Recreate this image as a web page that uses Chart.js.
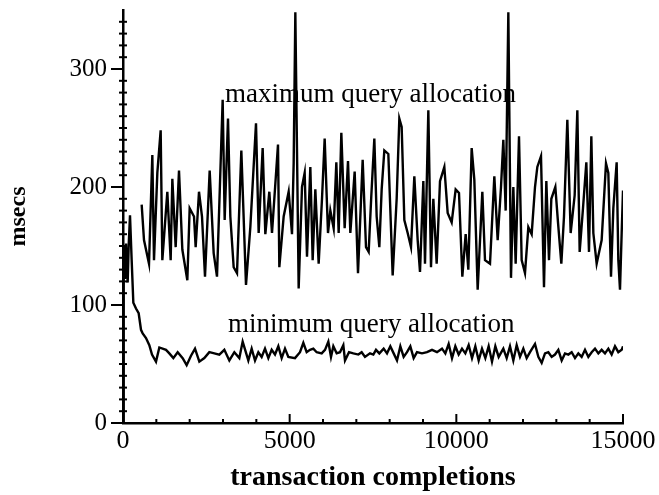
<!DOCTYPE html>
<html><head><meta charset="utf-8">
<script src="https://cdn.jsdelivr.net/npm/chart.js@4/dist/chart.umd.min.js"></script>
<style>html,body{margin:0;padding:0;background:#fff}#wrap{width:659px;height:495px}</style>
</head><body><div id="wrap"><canvas id="c" width="659" height="495"></canvas></div>
<script>
const xTickLabels = [0, 5000, 10000, 15000];
const yTickLabels = [0, 100, 200, 300];
const seriesNames = ["maximum query allocation", "minimum query allocation"];

const maxSeries = [
[560,185],[630,155],[780,135],[880,227],[930,138],[1030,212],[1130,248],[1180,138],[1330,196],[1430,138],
[1480,207],[1580,149],[1680,214],[1780,147],[1930,121],[2000,182],[2130,175],[2180,149],[2280,196],[2370,175],
[2460,124],[2600,214],[2720,144],[2820,124],[2990,274],[3050,172],[3150,258],[3220,175],[3320,132],[3420,127],
[3550,231],[3690,117],[3820,166],[3990,254],[4070,161],[4190,233],[4270,160],[4390,196],[4470,161],[4650,236],
[4690,132],[4820,175],[4970,196],[5070,160],[5120,220],[5170,348],[5270,114],[5370,200],[5450,212],[5520,141],
[5620,217],[5690,138],[5770,198],[5870,135],[5970,190],[6050,241],[6150,161],[6220,180],[6320,165],[6400,221],
[6470,161],[6550,246],[6650,165],[6750,222],[6820,161],[6950,213],[7050,127],[7190,223],[7290,149],[7370,145],
[7450,193],[7540,241],[7610,175],[7690,149],[7760,198],[7840,231],[7960,228],[8090,125],[8210,190],[8290,258],
[8360,251],[8440,172],[8540,161],[8640,149],[8740,209],[8840,155],[8910,128],[9010,205],[9060,135],[9160,265],
[9240,132],[9310,190],[9410,135],[9510,205],[9640,217],[9740,178],[9860,170],[9980,198],[10080,195],[10180,124],
[10280,160],[10360,130],[10460,233],[10540,206],[10640,113],[10780,196],[10860,138],[11010,135],[11140,209],[11240,155],
[11340,200],[11410,240],[11480,180],[11560,348],[11640,123],[11710,200],[11780,135],[11880,243],[11960,138],[12060,127],
[12160,166],[12260,160],[12360,200],[12430,217],[12540,226],[12630,115],[12700,205],[12780,138],[12850,190],[12970,200],
[13050,170],[13150,135],[13230,175],[13330,257],[13430,161],[13550,193],[13630,265],[13700,145],[13800,182],[13900,221],
[13980,145],[14050,243],[14110,161],[14210,135],[14360,155],[14490,220],[14560,212],[14640,124],[14710,182],[14810,221],
[14860,138],[14910,113],[14960,161],[15000,197]
];

const minSeries = [
[0,0],[20,150],[60,122],[90,152],[140,119],[170,150],[210,176],[260,138],[310,102],[390,97],
[470,93],[540,79],[590,76],[690,72],[790,66],[870,58],[990,52],[1090,64],[1290,62],[1390,59],
[1510,55],[1640,60],[1790,55],[1910,49],[2040,57],[2160,63],[2290,52],[2440,55],[2590,60],[2740,59],
[2890,58],[3040,62],[3190,53],[3340,60],[3490,55],[3590,69],[3760,53],[3860,63],[3960,53],[4060,60],
[4160,56],[4260,63],[4360,55],[4460,62],[4560,58],[4660,65],[4760,55],[4860,63],[4960,56],[5160,55],
[5310,60],[5410,68],[5510,60],[5610,62],[5710,63],[5810,60],[5960,59],[6060,62],[6160,69],[6240,56],
[6310,65],[6410,59],[6510,60],[6610,66],[6660,53],[6780,60],[6910,59],[7060,58],[7160,60],[7260,56],
[7410,59],[7510,58],[7590,62],[7690,59],[7820,63],[7920,59],[8020,65],[8120,59],[8220,53],[8320,65],
[8420,56],[8520,60],[8620,65],[8720,55],[8820,60],[8970,59],[9120,60],[9270,62],[9420,60],[9570,63],
[9670,59],[9770,67],[9870,55],[9970,65],[10070,58],[10170,63],[10270,59],[10370,66],[10470,55],[10570,65],
[10670,53],[10770,63],[10870,55],[10970,65],[11070,52],[11170,65],[11270,56],[11410,63],[11510,55],[11610,65],
[11710,53],[11810,66],[11910,56],[12010,63],[12110,55],[12210,60],[12360,67],[12460,56],[12560,51],[12660,59],
[12760,60],[12860,56],[12960,58],[13060,62],[13160,53],[13260,59],[13360,58],[13460,60],[13560,55],[13660,59],
[13760,56],[13860,62],[13960,56],[14060,60],[14160,63],[14260,59],[14360,62],[14460,59],[14560,63],[14660,58],
[14760,65],[14860,60],[14960,62],[15000,65]
];

const SERIF = '"Liberation Serif", "Times New Roman", serif';

const decor = {
  id: 'decor',
  afterDraw(chart) {
    const {ctx, scales: {x, y}} = chart;
    ctx.save();
    ctx.strokeStyle = '#000';
    ctx.lineWidth = 2;
    const ax = x.getPixelForValue(0);
    const ay = y.getPixelForValue(0);
    for (let v = 0; v < 350; v += 10) {
      const p = y.getPixelForValue(v);
      const major = v % 100 === 0;
      ctx.beginPath();
      ctx.moveTo(major ? ax - 12 : ax - 4, p);
      ctx.lineTo(major ? ax + 1 : ax + 4, p);
      ctx.stroke();
    }
    for (let v = 0; v <= 15000; v += 1000) {
      const p = x.getPixelForValue(v);
      const major = v % 5000 === 0;
      ctx.beginPath();
      ctx.moveTo(p, major ? ay - 9 : ay - 4);
      ctx.lineTo(p, ay + 1);
      ctx.stroke();
    }
    ctx.fillStyle = '#000';
    ctx.font = '27px ' + SERIF;
    ctx.textBaseline = 'middle';
    ctx.textAlign = 'left';
    ctx.fillText(seriesNames[0], x.getPixelForValue(3060), y.getPixelForValue(278));
    ctx.fillText(seriesNames[1], x.getPixelForValue(3150), y.getPixelForValue(83));
    ctx.restore();
  }
};

new Chart(document.getElementById('c'), {
  type: 'line',
  data: {
    datasets: [
      { label: seriesNames[0], data: maxSeries.map(p => ({x: p[0], y: p[1]})),
        borderColor: '#000', borderWidth: 2.4, pointRadius: 0, tension: 0, fill: false },
      { label: seriesNames[1], data: minSeries.map(p => ({x: p[0], y: p[1]})),
        borderColor: '#000', borderWidth: 2.4, pointRadius: 0, tension: 0, fill: false }
    ]
  },
  options: {
    responsive: false,
    animation: false,
    devicePixelRatio: 1,
    layout: { padding: { top: 10, right: 36, left: 0, bottom: 0 } },
    plugins: { legend: { display: false }, tooltip: { enabled: false } },
    scales: {
      x: {
        type: 'linear', min: 0, max: 15000,
        afterBuildTicks: s => { s.ticks = xTickLabels.map(v => ({value: v})); },
        afterFit: s => { s.height = 72; s.paddingLeft = 0; s.paddingRight = 0; },
        grid: { display: false, drawTicks: false },
        border: { display: true, color: '#000', width: 2.5 },
        ticks: { color: '#000', font: { family: SERIF, size: 26 }, padding: 3, maxRotation: 0, autoSkip: false,
                 callback: v => String(v) },
        title: { display: true, text: 'transaction completions', color: '#000',
                 font: { family: SERIF, size: 28, weight: 'bold' }, padding: { top: 0, bottom: 0 } }
      },
      y: {
        type: 'linear', min: 0, max: 350,
        afterBuildTicks: s => { s.ticks = yTickLabels.map(v => ({value: v})); },
        afterFit: s => { s.width = 123; s.paddingTop = 0; s.paddingBottom = 0; },
        grid: { display: false, drawTicks: false },
        border: { display: true, color: '#000', width: 2.5 },
        ticks: { color: '#000', font: { family: SERIF, size: 25 }, padding: 16,
                 callback: v => String(v) },
        title: { display: true, text: 'msecs', color: '#000',
                 font: { family: SERIF, size: 24, weight: 'bold' }, padding: { top: 4, bottom: 0 } }
      }
    }
  },
  plugins: [decor]
});
</script>
</body></html>
